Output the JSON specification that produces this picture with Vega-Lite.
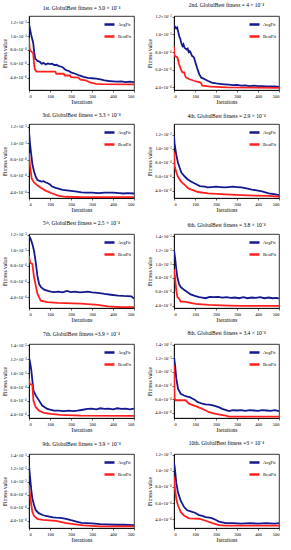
{
"$schema": "https://vega.github.io/schema/vega-lite/v6.json",
"padding": {"left": 2, "top": 2, "right": 2, "bottom": 2},
"background": "white",
"spacing": {"row": 6, "column": 12},
"config": {
  "font": "Liberation Serif",
  "view": {"stroke": "black", "strokeWidth": 0.8},
  "title": {"fontSize": 5.5, "fontWeight": "normal", "offset": 5, "color": "black", "font": "Liberation Serif"},
  "axis": {"labelFontSize": 4.5, "titleFontSize": 5.5, "titleFontWeight": "normal", "grid": false, "domainColor": "black", "tickColor": "black", "tickSize": 2, "labelPadding": 1, "titlePadding": 2, "labelColor": "black", "titleColor": "black", "labelFont": "Liberation Serif", "titleFont": "Liberation Serif", "domainWidth": 0.8, "tickWidth": 0.6},
  "legend": {"orient": "top-right", "offset": 2, "padding": 0, "title": null, "symbolType": "stroke", "symbolStrokeWidth": 2.5, "symbolSize": 100, "labelFontSize": 4.5, "labelFont": "Liberation Serif", "rowPadding": 0, "labelOffset": 2, "labelColor": "black"}
},
"data": {"values": [
{"p":1,"s":"AvgFit","x":0,"y":11.8},{"p":1,"s":"AvgFit","x":5,"y":11.0},{"p":1,"s":"AvgFit","x":10,"y":10.2},{"p":1,"s":"AvgFit","x":15,"y":9.6},{"p":1,"s":"AvgFit","x":20,"y":9.0},{"p":1,"s":"AvgFit","x":25,"y":7.6},{"p":1,"s":"AvgFit","x":30,"y":6.7},{"p":1,"s":"AvgFit","x":35,"y":6.6},{"p":1,"s":"AvgFit","x":40,"y":6.4},{"p":1,"s":"AvgFit","x":50,"y":6.3},{"p":1,"s":"AvgFit","x":60,"y":6.0},{"p":1,"s":"AvgFit","x":70,"y":6.1},{"p":1,"s":"AvgFit","x":80,"y":5.9},{"p":1,"s":"AvgFit","x":90,"y":6.05},{"p":1,"s":"AvgFit","x":100,"y":5.95},{"p":1,"s":"AvgFit","x":110,"y":6.0},{"p":1,"s":"AvgFit","x":120,"y":5.8},{"p":1,"s":"AvgFit","x":130,"y":5.85},{"p":1,"s":"AvgFit","x":140,"y":5.7},{"p":1,"s":"AvgFit","x":150,"y":5.6},{"p":1,"s":"AvgFit","x":160,"y":5.5},{"p":1,"s":"AvgFit","x":170,"y":5.2},{"p":1,"s":"AvgFit","x":180,"y":5.05},{"p":1,"s":"AvgFit","x":190,"y":4.95},{"p":1,"s":"AvgFit","x":200,"y":4.75},{"p":1,"s":"AvgFit","x":220,"y":4.55},{"p":1,"s":"AvgFit","x":240,"y":4.3},{"p":1,"s":"AvgFit","x":260,"y":4.1},{"p":1,"s":"AvgFit","x":280,"y":3.95},{"p":1,"s":"AvgFit","x":300,"y":3.9},{"p":1,"s":"AvgFit","x":320,"y":3.85},{"p":1,"s":"AvgFit","x":340,"y":3.75},{"p":1,"s":"AvgFit","x":360,"y":3.6},{"p":1,"s":"AvgFit","x":380,"y":3.5},{"p":1,"s":"AvgFit","x":400,"y":3.45},{"p":1,"s":"AvgFit","x":420,"y":3.4},{"p":1,"s":"AvgFit","x":440,"y":3.45},{"p":1,"s":"AvgFit","x":460,"y":3.35},{"p":1,"s":"AvgFit","x":480,"y":3.4},{"p":1,"s":"AvgFit","x":500,"y":3.35},
{"p":1,"s":"BestFit","x":0,"y":9.7},{"p":1,"s":"BestFit","x":3,"y":8.1},{"p":1,"s":"BestFit","x":10,"y":7.8},{"p":1,"s":"BestFit","x":20,"y":7.5},{"p":1,"s":"BestFit","x":24,"y":6.0},{"p":1,"s":"BestFit","x":28,"y":5.2},{"p":1,"s":"BestFit","x":35,"y":4.85},{"p":1,"s":"BestFit","x":125,"y":4.85},{"p":1,"s":"BestFit","x":130,"y":4.55},{"p":1,"s":"BestFit","x":165,"y":4.55},{"p":1,"s":"BestFit","x":170,"y":4.3},{"p":1,"s":"BestFit","x":195,"y":4.3},{"p":1,"s":"BestFit","x":200,"y":4.05},{"p":1,"s":"BestFit","x":235,"y":4.0},{"p":1,"s":"BestFit","x":245,"y":3.7},{"p":1,"s":"BestFit","x":270,"y":3.6},{"p":1,"s":"BestFit","x":290,"y":3.3},{"p":1,"s":"BestFit","x":320,"y":3.1},{"p":1,"s":"BestFit","x":350,"y":3.05},{"p":1,"s":"BestFit","x":500,"y":3.0},
{"p":2,"s":"AvgFit","x":0,"y":11.0},{"p":2,"s":"AvgFit","x":5,"y":10.9},{"p":2,"s":"AvgFit","x":10,"y":10.7},{"p":2,"s":"AvgFit","x":15,"y":10.8},{"p":2,"s":"AvgFit","x":20,"y":10.3},{"p":2,"s":"AvgFit","x":25,"y":9.8},{"p":2,"s":"AvgFit","x":30,"y":9.5},{"p":2,"s":"AvgFit","x":35,"y":9.0},{"p":2,"s":"AvgFit","x":40,"y":8.7},{"p":2,"s":"AvgFit","x":45,"y":8.9},{"p":2,"s":"AvgFit","x":50,"y":8.5},{"p":2,"s":"AvgFit","x":55,"y":8.4},{"p":2,"s":"AvgFit","x":60,"y":8.3},{"p":2,"s":"AvgFit","x":65,"y":8.4},{"p":2,"s":"AvgFit","x":70,"y":8.0},{"p":2,"s":"AvgFit","x":75,"y":8.1},{"p":2,"s":"AvgFit","x":80,"y":7.9},{"p":2,"s":"AvgFit","x":85,"y":7.6},{"p":2,"s":"AvgFit","x":90,"y":7.5},{"p":2,"s":"AvgFit","x":95,"y":7.4},{"p":2,"s":"AvgFit","x":100,"y":7.0},{"p":2,"s":"AvgFit","x":110,"y":6.2},{"p":2,"s":"AvgFit","x":120,"y":5.5},{"p":2,"s":"AvgFit","x":130,"y":5.1},{"p":2,"s":"AvgFit","x":140,"y":5.0},{"p":2,"s":"AvgFit","x":160,"y":4.75},{"p":2,"s":"AvgFit","x":180,"y":4.55},{"p":2,"s":"AvgFit","x":200,"y":4.45},{"p":2,"s":"AvgFit","x":220,"y":4.4},{"p":2,"s":"AvgFit","x":240,"y":4.35},{"p":2,"s":"AvgFit","x":260,"y":4.3},{"p":2,"s":"AvgFit","x":280,"y":4.25},{"p":2,"s":"AvgFit","x":300,"y":4.28},{"p":2,"s":"AvgFit","x":320,"y":4.2},{"p":2,"s":"AvgFit","x":340,"y":4.22},{"p":2,"s":"AvgFit","x":360,"y":4.15},{"p":2,"s":"AvgFit","x":380,"y":4.2},{"p":2,"s":"AvgFit","x":400,"y":4.15},{"p":2,"s":"AvgFit","x":420,"y":4.15},{"p":2,"s":"AvgFit","x":440,"y":4.1},{"p":2,"s":"AvgFit","x":460,"y":4.12},{"p":2,"s":"AvgFit","x":480,"y":4.1},{"p":2,"s":"AvgFit","x":500,"y":4.05},
{"p":2,"s":"BestFit","x":0,"y":8.6},{"p":2,"s":"BestFit","x":2,"y":7.6},{"p":2,"s":"BestFit","x":16,"y":7.4},{"p":2,"s":"BestFit","x":24,"y":6.65},{"p":2,"s":"BestFit","x":32,"y":6.1},{"p":2,"s":"BestFit","x":40,"y":5.7},{"p":2,"s":"BestFit","x":48,"y":5.7},{"p":2,"s":"BestFit","x":56,"y":5.15},{"p":2,"s":"BestFit","x":71,"y":4.95},{"p":2,"s":"BestFit","x":95,"y":4.75},{"p":2,"s":"BestFit","x":127,"y":4.55},{"p":2,"s":"BestFit","x":135,"y":4.2},{"p":2,"s":"BestFit","x":175,"y":4.08},{"p":2,"s":"BestFit","x":254,"y":4.0},{"p":2,"s":"BestFit","x":500,"y":3.95},
{"p":3,"s":"AvgFit","x":0,"y":11.45},{"p":3,"s":"AvgFit","x":5,"y":9.9},{"p":3,"s":"AvgFit","x":11,"y":8.55},{"p":3,"s":"AvgFit","x":16,"y":7.45},{"p":3,"s":"AvgFit","x":24,"y":6.55},{"p":3,"s":"AvgFit","x":32,"y":5.9},{"p":3,"s":"AvgFit","x":40,"y":5.5},{"p":3,"s":"AvgFit","x":50,"y":5.4},{"p":3,"s":"AvgFit","x":60,"y":5.3},{"p":3,"s":"AvgFit","x":70,"y":5.35},{"p":3,"s":"AvgFit","x":80,"y":5.2},{"p":3,"s":"AvgFit","x":90,"y":5.1},{"p":3,"s":"AvgFit","x":100,"y":4.95},{"p":3,"s":"AvgFit","x":110,"y":4.7},{"p":3,"s":"AvgFit","x":127,"y":4.55},{"p":3,"s":"AvgFit","x":140,"y":4.45},{"p":3,"s":"AvgFit","x":160,"y":4.3},{"p":3,"s":"AvgFit","x":190,"y":4.2},{"p":3,"s":"AvgFit","x":220,"y":4.1},{"p":3,"s":"AvgFit","x":250,"y":4.0},{"p":3,"s":"AvgFit","x":270,"y":3.95},{"p":3,"s":"AvgFit","x":300,"y":3.95},{"p":3,"s":"AvgFit","x":330,"y":3.9},{"p":3,"s":"AvgFit","x":360,"y":3.95},{"p":3,"s":"AvgFit","x":400,"y":3.95},{"p":3,"s":"AvgFit","x":430,"y":3.9},{"p":3,"s":"AvgFit","x":450,"y":3.85},{"p":3,"s":"AvgFit","x":470,"y":3.9},{"p":3,"s":"AvgFit","x":500,"y":3.85},
{"p":3,"s":"BestFit","x":0,"y":8.8},{"p":3,"s":"BestFit","x":5,"y":7.2},{"p":3,"s":"BestFit","x":13,"y":5.65},{"p":3,"s":"BestFit","x":24,"y":5.2},{"p":3,"s":"BestFit","x":40,"y":4.85},{"p":3,"s":"BestFit","x":56,"y":4.55},{"p":3,"s":"BestFit","x":79,"y":4.2},{"p":3,"s":"BestFit","x":111,"y":3.85},{"p":3,"s":"BestFit","x":143,"y":3.55},{"p":3,"s":"BestFit","x":175,"y":3.45},{"p":3,"s":"BestFit","x":254,"y":3.4},{"p":3,"s":"BestFit","x":500,"y":3.4},
{"p":4,"s":"AvgFit","x":0,"y":11.8},{"p":4,"s":"AvgFit","x":3,"y":10.65},{"p":4,"s":"AvgFit","x":11,"y":9.1},{"p":4,"s":"AvgFit","x":19,"y":8.0},{"p":4,"s":"AvgFit","x":27,"y":7.3},{"p":4,"s":"AvgFit","x":35,"y":6.6},{"p":4,"s":"AvgFit","x":51,"y":6.05},{"p":4,"s":"AvgFit","x":67,"y":5.6},{"p":4,"s":"AvgFit","x":83,"y":5.3},{"p":4,"s":"AvgFit","x":99,"y":5.05},{"p":4,"s":"AvgFit","x":123,"y":4.7},{"p":4,"s":"AvgFit","x":147,"y":4.6},{"p":4,"s":"AvgFit","x":160,"y":4.5},{"p":4,"s":"AvgFit","x":180,"y":4.55},{"p":4,"s":"AvgFit","x":200,"y":4.6},{"p":4,"s":"AvgFit","x":220,"y":4.55},{"p":4,"s":"AvgFit","x":240,"y":4.5},{"p":4,"s":"AvgFit","x":260,"y":4.55},{"p":4,"s":"AvgFit","x":280,"y":4.6},{"p":4,"s":"AvgFit","x":300,"y":4.55},{"p":4,"s":"AvgFit","x":320,"y":4.5},{"p":4,"s":"AvgFit","x":340,"y":4.4},{"p":4,"s":"AvgFit","x":371,"y":4.2},{"p":4,"s":"AvgFit","x":400,"y":4.05},{"p":4,"s":"AvgFit","x":419,"y":3.95},{"p":4,"s":"AvgFit","x":451,"y":3.65},{"p":4,"s":"AvgFit","x":483,"y":3.5},{"p":4,"s":"AvgFit","x":500,"y":3.4},
{"p":4,"s":"BestFit","x":0,"y":9.55},{"p":4,"s":"BestFit","x":3,"y":7.55},{"p":4,"s":"BestFit","x":11,"y":6.65},{"p":4,"s":"BestFit","x":19,"y":6.0},{"p":4,"s":"BestFit","x":35,"y":5.3},{"p":4,"s":"BestFit","x":51,"y":4.85},{"p":4,"s":"BestFit","x":67,"y":4.4},{"p":4,"s":"BestFit","x":83,"y":4.2},{"p":4,"s":"BestFit","x":115,"y":3.85},{"p":4,"s":"BestFit","x":163,"y":3.65},{"p":4,"s":"BestFit","x":243,"y":3.5},{"p":4,"s":"BestFit","x":323,"y":3.4},{"p":4,"s":"BestFit","x":387,"y":3.35},{"p":4,"s":"BestFit","x":451,"y":3.3},{"p":4,"s":"BestFit","x":500,"y":3.2},
{"p":5,"s":"AvgFit","x":0,"y":11.9},{"p":5,"s":"AvgFit","x":8,"y":11.45},{"p":5,"s":"AvgFit","x":16,"y":10.8},{"p":5,"s":"AvgFit","x":24,"y":9.95},{"p":5,"s":"AvgFit","x":32,"y":8.45},{"p":5,"s":"AvgFit","x":40,"y":6.75},{"p":5,"s":"AvgFit","x":48,"y":5.7},{"p":5,"s":"AvgFit","x":56,"y":5.3},{"p":5,"s":"AvgFit","x":72,"y":4.95},{"p":5,"s":"AvgFit","x":90,"y":4.8},{"p":5,"s":"AvgFit","x":104,"y":4.7},{"p":5,"s":"AvgFit","x":120,"y":4.65},{"p":5,"s":"AvgFit","x":140,"y":4.7},{"p":5,"s":"AvgFit","x":160,"y":4.6},{"p":5,"s":"AvgFit","x":180,"y":4.8},{"p":5,"s":"AvgFit","x":200,"y":4.65},{"p":5,"s":"AvgFit","x":220,"y":4.7},{"p":5,"s":"AvgFit","x":240,"y":4.6},{"p":5,"s":"AvgFit","x":260,"y":4.65},{"p":5,"s":"AvgFit","x":280,"y":4.7},{"p":5,"s":"AvgFit","x":300,"y":4.6},{"p":5,"s":"AvgFit","x":328,"y":4.55},{"p":5,"s":"AvgFit","x":360,"y":4.4},{"p":5,"s":"AvgFit","x":390,"y":4.3},{"p":5,"s":"AvgFit","x":424,"y":4.2},{"p":5,"s":"AvgFit","x":450,"y":4.15},{"p":5,"s":"AvgFit","x":488,"y":4.1},{"p":5,"s":"AvgFit","x":500,"y":3.8},
{"p":5,"s":"BestFit","x":0,"y":9.3},{"p":5,"s":"BestFit","x":5,"y":8.45},{"p":5,"s":"BestFit","x":16,"y":8.25},{"p":5,"s":"BestFit","x":24,"y":6.55},{"p":5,"s":"BestFit","x":32,"y":5.5},{"p":5,"s":"BestFit","x":40,"y":4.45},{"p":5,"s":"BestFit","x":48,"y":4.0},{"p":5,"s":"BestFit","x":56,"y":3.55},{"p":5,"s":"BestFit","x":88,"y":3.35},{"p":5,"s":"BestFit","x":136,"y":3.25},{"p":5,"s":"BestFit","x":248,"y":3.15},{"p":5,"s":"BestFit","x":328,"y":3.0},{"p":5,"s":"BestFit","x":376,"y":2.8},{"p":5,"s":"BestFit","x":440,"y":2.7},{"p":5,"s":"BestFit","x":500,"y":2.7},
{"p":6,"s":"AvgFit","x":0,"y":12.05},{"p":6,"s":"AvgFit","x":5,"y":10.9},{"p":6,"s":"AvgFit","x":11,"y":9.25},{"p":6,"s":"AvgFit","x":16,"y":8.1},{"p":6,"s":"AvgFit","x":24,"y":7.15},{"p":6,"s":"AvgFit","x":32,"y":6.7},{"p":6,"s":"AvgFit","x":48,"y":6.3},{"p":6,"s":"AvgFit","x":63,"y":6.0},{"p":6,"s":"AvgFit","x":79,"y":5.65},{"p":6,"s":"AvgFit","x":103,"y":5.4},{"p":6,"s":"AvgFit","x":120,"y":5.25},{"p":6,"s":"AvgFit","x":135,"y":5.2},{"p":6,"s":"AvgFit","x":150,"y":5.1},{"p":6,"s":"AvgFit","x":170,"y":5.3},{"p":6,"s":"AvgFit","x":190,"y":5.25},{"p":6,"s":"AvgFit","x":210,"y":5.3},{"p":6,"s":"AvgFit","x":230,"y":5.2},{"p":6,"s":"AvgFit","x":250,"y":5.25},{"p":6,"s":"AvgFit","x":270,"y":5.15},{"p":6,"s":"AvgFit","x":290,"y":5.2},{"p":6,"s":"AvgFit","x":310,"y":5.1},{"p":6,"s":"AvgFit","x":330,"y":5.25},{"p":6,"s":"AvgFit","x":350,"y":5.1},{"p":6,"s":"AvgFit","x":370,"y":5.2},{"p":6,"s":"AvgFit","x":390,"y":5.15},{"p":6,"s":"AvgFit","x":410,"y":5.25},{"p":6,"s":"AvgFit","x":430,"y":5.1},{"p":6,"s":"AvgFit","x":450,"y":5.2},{"p":6,"s":"AvgFit","x":470,"y":5.1},{"p":6,"s":"AvgFit","x":490,"y":5.15},{"p":6,"s":"AvgFit","x":500,"y":5.05},
{"p":6,"s":"BestFit","x":0,"y":9.25},{"p":6,"s":"BestFit","x":5,"y":8.1},{"p":6,"s":"BestFit","x":11,"y":6.2},{"p":6,"s":"BestFit","x":16,"y":5.3},{"p":6,"s":"BestFit","x":24,"y":5.05},{"p":6,"s":"BestFit","x":32,"y":4.6},{"p":6,"s":"BestFit","x":48,"y":4.6},{"p":6,"s":"BestFit","x":79,"y":4.45},{"p":6,"s":"BestFit","x":103,"y":4.3},{"p":6,"s":"BestFit","x":167,"y":4.15},{"p":6,"s":"BestFit","x":262,"y":4.05},{"p":6,"s":"BestFit","x":325,"y":4.0},{"p":6,"s":"BestFit","x":500,"y":4.0},
{"p":7,"s":"AvgFit","x":0,"y":12.3},{"p":7,"s":"AvgFit","x":5,"y":11.6},{"p":7,"s":"AvgFit","x":11,"y":10.4},{"p":7,"s":"AvgFit","x":16,"y":8.95},{"p":7,"s":"AvgFit","x":21,"y":7.5},{"p":7,"s":"AvgFit","x":32,"y":6.8},{"p":7,"s":"AvgFit","x":48,"y":6.05},{"p":7,"s":"AvgFit","x":63,"y":5.35},{"p":7,"s":"AvgFit","x":87,"y":4.85},{"p":7,"s":"AvgFit","x":119,"y":4.6},{"p":7,"s":"AvgFit","x":140,"y":4.6},{"p":7,"s":"AvgFit","x":167,"y":4.55},{"p":7,"s":"AvgFit","x":190,"y":4.6},{"p":7,"s":"AvgFit","x":210,"y":4.55},{"p":7,"s":"AvgFit","x":230,"y":4.6},{"p":7,"s":"AvgFit","x":250,"y":4.7},{"p":7,"s":"AvgFit","x":278,"y":4.85},{"p":7,"s":"AvgFit","x":300,"y":4.9},{"p":7,"s":"AvgFit","x":320,"y":4.8},{"p":7,"s":"AvgFit","x":340,"y":4.95},{"p":7,"s":"AvgFit","x":360,"y":4.85},{"p":7,"s":"AvgFit","x":380,"y":4.9},{"p":7,"s":"AvgFit","x":400,"y":4.8},{"p":7,"s":"AvgFit","x":420,"y":4.95},{"p":7,"s":"AvgFit","x":440,"y":4.85},{"p":7,"s":"AvgFit","x":460,"y":4.9},{"p":7,"s":"AvgFit","x":480,"y":4.8},{"p":7,"s":"AvgFit","x":500,"y":4.9},
{"p":7,"s":"BestFit","x":0,"y":9.2},{"p":7,"s":"BestFit","x":3,"y":8.45},{"p":7,"s":"BestFit","x":16,"y":8.3},{"p":7,"s":"BestFit","x":21,"y":6.05},{"p":7,"s":"BestFit","x":32,"y":5.1},{"p":7,"s":"BestFit","x":48,"y":4.6},{"p":7,"s":"BestFit","x":71,"y":4.3},{"p":7,"s":"BestFit","x":103,"y":4.15},{"p":7,"s":"BestFit","x":151,"y":4.0},{"p":7,"s":"BestFit","x":246,"y":3.9},{"p":7,"s":"BestFit","x":500,"y":3.85},
{"p":8,"s":"AvgFit","x":0,"y":12.25},{"p":8,"s":"AvgFit","x":5,"y":11.0},{"p":8,"s":"AvgFit","x":11,"y":9.05},{"p":8,"s":"AvgFit","x":19,"y":7.55},{"p":8,"s":"AvgFit","x":32,"y":6.8},{"p":8,"s":"AvgFit","x":48,"y":6.55},{"p":8,"s":"AvgFit","x":63,"y":6.4},{"p":8,"s":"AvgFit","x":75,"y":6.3},{"p":8,"s":"AvgFit","x":87,"y":6.1},{"p":8,"s":"AvgFit","x":100,"y":5.9},{"p":8,"s":"AvgFit","x":111,"y":5.6},{"p":8,"s":"AvgFit","x":125,"y":5.45},{"p":8,"s":"AvgFit","x":135,"y":5.35},{"p":8,"s":"AvgFit","x":150,"y":5.25},{"p":8,"s":"AvgFit","x":167,"y":5.2},{"p":8,"s":"AvgFit","x":185,"y":5.1},{"p":8,"s":"AvgFit","x":198,"y":5.0},{"p":8,"s":"AvgFit","x":215,"y":4.8},{"p":8,"s":"AvgFit","x":230,"y":4.6},{"p":8,"s":"AvgFit","x":262,"y":4.25},{"p":8,"s":"AvgFit","x":280,"y":4.4},{"p":8,"s":"AvgFit","x":300,"y":4.35},{"p":8,"s":"AvgFit","x":320,"y":4.4},{"p":8,"s":"AvgFit","x":340,"y":4.3},{"p":8,"s":"AvgFit","x":360,"y":4.4},{"p":8,"s":"AvgFit","x":380,"y":4.35},{"p":8,"s":"AvgFit","x":400,"y":4.3},{"p":8,"s":"AvgFit","x":420,"y":4.4},{"p":8,"s":"AvgFit","x":440,"y":4.35},{"p":8,"s":"AvgFit","x":460,"y":4.3},{"p":8,"s":"AvgFit","x":480,"y":4.4},{"p":8,"s":"AvgFit","x":500,"y":4.25},
{"p":8,"s":"BestFit","x":0,"y":11.0},{"p":8,"s":"BestFit","x":3,"y":6.1},{"p":8,"s":"BestFit","x":8,"y":5.85},{"p":8,"s":"BestFit","x":56,"y":5.85},{"p":8,"s":"BestFit","x":71,"y":5.35},{"p":8,"s":"BestFit","x":103,"y":5.0},{"p":8,"s":"BestFit","x":135,"y":4.6},{"p":8,"s":"BestFit","x":167,"y":4.1},{"p":8,"s":"BestFit","x":198,"y":3.85},{"p":8,"s":"BestFit","x":246,"y":3.6},{"p":8,"s":"BestFit","x":262,"y":3.45},{"p":8,"s":"BestFit","x":500,"y":3.45},
{"p":9,"s":"AvgFit","x":0,"y":12.5},{"p":9,"s":"AvgFit","x":5,"y":10.7},{"p":9,"s":"AvgFit","x":11,"y":8.65},{"p":9,"s":"AvgFit","x":16,"y":7.4},{"p":9,"s":"AvgFit","x":24,"y":6.4},{"p":9,"s":"AvgFit","x":32,"y":5.6},{"p":9,"s":"AvgFit","x":48,"y":5.1},{"p":9,"s":"AvgFit","x":65,"y":4.85},{"p":9,"s":"AvgFit","x":80,"y":4.7},{"p":9,"s":"AvgFit","x":97,"y":4.6},{"p":9,"s":"AvgFit","x":115,"y":4.5},{"p":9,"s":"AvgFit","x":129,"y":4.45},{"p":9,"s":"AvgFit","x":150,"y":4.4},{"p":9,"s":"AvgFit","x":177,"y":4.25},{"p":9,"s":"AvgFit","x":200,"y":4.05},{"p":9,"s":"AvgFit","x":226,"y":3.85},{"p":9,"s":"AvgFit","x":250,"y":3.65},{"p":9,"s":"AvgFit","x":274,"y":3.6},{"p":9,"s":"AvgFit","x":300,"y":3.55},{"p":9,"s":"AvgFit","x":339,"y":3.45},{"p":9,"s":"AvgFit","x":370,"y":3.4},{"p":9,"s":"AvgFit","x":419,"y":3.35},{"p":9,"s":"AvgFit","x":450,"y":3.35},{"p":9,"s":"AvgFit","x":500,"y":3.3},
{"p":9,"s":"BestFit","x":0,"y":9.45},{"p":9,"s":"BestFit","x":5,"y":7.9},{"p":9,"s":"BestFit","x":11,"y":6.4},{"p":9,"s":"BestFit","x":16,"y":5.35},{"p":9,"s":"BestFit","x":24,"y":4.7},{"p":9,"s":"BestFit","x":40,"y":4.25},{"p":9,"s":"BestFit","x":65,"y":4.1},{"p":9,"s":"BestFit","x":129,"y":3.95},{"p":9,"s":"BestFit","x":177,"y":3.6},{"p":9,"s":"BestFit","x":258,"y":3.25},{"p":9,"s":"BestFit","x":339,"y":3.1},{"p":9,"s":"BestFit","x":500,"y":3.1},
{"p":10,"s":"AvgFit","x":0,"y":11.1},{"p":10,"s":"AvgFit","x":5,"y":10.1},{"p":10,"s":"AvgFit","x":11,"y":8.5},{"p":10,"s":"AvgFit","x":19,"y":7.3},{"p":10,"s":"AvgFit","x":32,"y":6.3},{"p":10,"s":"AvgFit","x":48,"y":5.5},{"p":10,"s":"AvgFit","x":63,"y":5.1},{"p":10,"s":"AvgFit","x":87,"y":4.9},{"p":10,"s":"AvgFit","x":100,"y":4.8},{"p":10,"s":"AvgFit","x":119,"y":4.5},{"p":10,"s":"AvgFit","x":135,"y":4.4},{"p":10,"s":"AvgFit","x":151,"y":4.25},{"p":10,"s":"AvgFit","x":170,"y":4.2},{"p":10,"s":"AvgFit","x":183,"y":4.1},{"p":10,"s":"AvgFit","x":200,"y":3.9},{"p":10,"s":"AvgFit","x":214,"y":3.7},{"p":10,"s":"AvgFit","x":246,"y":3.5},{"p":10,"s":"AvgFit","x":280,"y":3.5},{"p":10,"s":"AvgFit","x":320,"y":3.45},{"p":10,"s":"AvgFit","x":360,"y":3.5},{"p":10,"s":"AvgFit","x":400,"y":3.45},{"p":10,"s":"AvgFit","x":440,"y":3.5},{"p":10,"s":"AvgFit","x":480,"y":3.45},{"p":10,"s":"AvgFit","x":500,"y":3.5},
{"p":10,"s":"BestFit","x":0,"y":9.3},{"p":10,"s":"BestFit","x":5,"y":7.7},{"p":10,"s":"BestFit","x":11,"y":6.5},{"p":10,"s":"BestFit","x":19,"y":5.7},{"p":10,"s":"BestFit","x":32,"y":4.9},{"p":10,"s":"BestFit","x":48,"y":4.45},{"p":10,"s":"BestFit","x":71,"y":4.1},{"p":10,"s":"BestFit","x":119,"y":4.05},{"p":10,"s":"BestFit","x":151,"y":3.8},{"p":10,"s":"BestFit","x":183,"y":3.5},{"p":10,"s":"BestFit","x":214,"y":3.25},{"p":10,"s":"BestFit","x":246,"y":3.2},{"p":10,"s":"BestFit","x":500,"y":3.2}
]},
"columns": 2,
"resolve": {"legend": {"color": "independent"}},
"concat": [
{"title": "1st. GlobalBest fitness = 3.0 × 10⁻⁴", "width": 105, "height": 74, "transform": [{"filter": "datum.p == 1"}], "mark": {"type": "line", "strokeWidth": 1.8, "clip": true},
 "encoding": {"x": {"field": "x", "type": "quantitative", "scale": {"domain": [0, 500]}, "axis": {"values": [0,100,200,300,400,500], "title": "Iterations"}},
  "y": {"field": "y", "type": "quantitative", "scale": {"domain": [2.2, 12.9], "nice": false, "zero": false}, "axis": {"values": [4,6,8,10,12], "title": "Fitness value", "labelExpr": "datum.value >= 10 ? format(datum.value/10,'.1f') + '×10⁻³' : format(datum.value,'.1f') + '×10⁻⁴'"}},
  "color": {"field": "s", "type": "nominal", "scale": {"domain": ["AvgFit","BestFit"], "range": ["#14198f","#ff1f1f"]}}}},
{"title": "2nd. GlobalBest fitness = 4 × 10⁻⁴", "width": 105, "height": 74, "transform": [{"filter": "datum.p == 2"}], "mark": {"type": "line", "strokeWidth": 1.8, "clip": true},
 "encoding": {"x": {"field": "x", "type": "quantitative", "scale": {"domain": [0, 500]}, "axis": {"values": [0,100,200,300,400,500], "title": "Iterations"}},
  "y": {"field": "y", "type": "quantitative", "scale": {"domain": [3.7, 12.1], "nice": false, "zero": false}, "axis": {"values": [4,6,8,10,12], "title": "Fitness value", "labelExpr": "datum.value >= 10 ? format(datum.value/10,'.1f') + '×10⁻³' : format(datum.value,'.1f') + '×10⁻⁴'"}},
  "color": {"field": "s", "type": "nominal", "scale": {"domain": ["AvgFit","BestFit"], "range": ["#14198f","#ff1f1f"]}}}},
{"title": "3rd.  GlobalBest fitness = 3.3 × 10⁻⁴", "width": 105, "height": 74, "transform": [{"filter": "datum.p == 3"}], "mark": {"type": "line", "strokeWidth": 1.8, "clip": true},
 "encoding": {"x": {"field": "x", "type": "quantitative", "scale": {"domain": [0, 500]}, "axis": {"values": [0,100,200,300,400,500], "title": "Iterations"}},
  "y": {"field": "y", "type": "quantitative", "scale": {"domain": [3.3, 12.35], "nice": false, "zero": false}, "axis": {"values": [4,6,8,10,12], "title": "Fitness value", "labelExpr": "datum.value >= 10 ? format(datum.value/10,'.1f') + '×10⁻³' : format(datum.value,'.1f') + '×10⁻⁴'"}},
  "color": {"field": "s", "type": "nominal", "scale": {"domain": ["AvgFit","BestFit"], "range": ["#14198f","#ff1f1f"]}}}},
{"title": "4th. GlobalBest fitness = 2.9 × 10⁻⁴", "width": 105, "height": 74, "transform": [{"filter": "datum.p == 4"}], "mark": {"type": "line", "strokeWidth": 1.8, "clip": true},
 "encoding": {"x": {"field": "x", "type": "quantitative", "scale": {"domain": [0, 500]}, "axis": {"values": [0,100,200,300,400,500], "title": "Iterations"}},
  "y": {"field": "y", "type": "quantitative", "scale": {"domain": [3.0, 13.5], "nice": false, "zero": false}, "axis": {"values": [4,6,8,10,12], "title": "Fitness value", "labelExpr": "datum.value >= 10 ? format(datum.value/10,'.1f') + '×10⁻³' : format(datum.value,'.1f') + '×10⁻⁴'"}},
  "color": {"field": "s", "type": "nominal", "scale": {"domain": ["AvgFit","BestFit"], "range": ["#14198f","#ff1f1f"]}}}},
{"title": "5ᵗʰ. GlobalBest fitness =  2.5 × 10⁻⁴", "width": 105, "height": 74, "transform": [{"filter": "datum.p == 5"}], "mark": {"type": "line", "strokeWidth": 1.8, "clip": true},
 "encoding": {"x": {"field": "x", "type": "quantitative", "scale": {"domain": [0, 500]}, "axis": {"values": [0,100,200,300,400,500], "title": "Iterations"}},
  "y": {"field": "y", "type": "quantitative", "scale": {"domain": [2.6, 12.1], "nice": false, "zero": false}, "axis": {"values": [4,6,8,10,12], "title": "Fitness value", "labelExpr": "datum.value >= 10 ? format(datum.value/10,'.1f') + '×10⁻³' : format(datum.value,'.1f') + '×10⁻⁴'"}},
  "color": {"field": "s", "type": "nominal", "scale": {"domain": ["AvgFit","BestFit"], "range": ["#14198f","#ff1f1f"]}}}},
{"title": "6th. GlobalBest fitness =  3.8 × 10⁻⁴", "width": 105, "height": 74, "transform": [{"filter": "datum.p == 6"}], "mark": {"type": "line", "strokeWidth": 1.8, "clip": true},
 "encoding": {"x": {"field": "x", "type": "quantitative", "scale": {"domain": [0, 500]}, "axis": {"values": [0,100,200,300,400,500], "title": "Iterations"}},
  "y": {"field": "y", "type": "quantitative", "scale": {"domain": [3.7, 14.3], "nice": false, "zero": false}, "axis": {"values": [4,6,8,10,12,14], "title": "Fitness value", "labelExpr": "datum.value >= 10 ? format(datum.value/10,'.1f') + '×10⁻³' : format(datum.value,'.1f') + '×10⁻⁴'"}},
  "color": {"field": "s", "type": "nominal", "scale": {"domain": ["AvgFit","BestFit"], "range": ["#14198f","#ff1f1f"]}}}},
{"title": "7th. GlobalBest fitness =3.9 × 10⁻⁴", "width": 105, "height": 74, "transform": [{"filter": "datum.p == 7"}], "mark": {"type": "line", "strokeWidth": 1.8, "clip": true},
 "encoding": {"x": {"field": "x", "type": "quantitative", "scale": {"domain": [0, 500]}, "axis": {"values": [0,100,200,300,400,500], "title": "Iterations"}},
  "y": {"field": "y", "type": "quantitative", "scale": {"domain": [3.55, 14.2], "nice": false, "zero": false}, "axis": {"values": [4,6,8,10,12,14], "title": "Fitness value", "labelExpr": "datum.value >= 10 ? format(datum.value/10,'.1f') + '×10⁻³' : format(datum.value,'.1f') + '×10⁻⁴'"}},
  "color": {"field": "s", "type": "nominal", "scale": {"domain": ["AvgFit","BestFit"], "range": ["#14198f","#ff1f1f"]}}}},
{"title": "8th. GlobalBest fitness = 3.4 × 10⁻⁴", "width": 105, "height": 74, "transform": [{"filter": "datum.p == 8"}], "mark": {"type": "line", "strokeWidth": 1.8, "clip": true},
 "encoding": {"x": {"field": "x", "type": "quantitative", "scale": {"domain": [0, 500]}, "axis": {"values": [0,100,200,300,400,500], "title": "Iterations"}},
  "y": {"field": "y", "type": "quantitative", "scale": {"domain": [3.25, 14.1], "nice": false, "zero": false}, "axis": {"values": [4,6,8,10,12,14], "title": "Fitness value", "labelExpr": "datum.value >= 10 ? format(datum.value/10,'.1f') + '×10⁻³' : format(datum.value,'.1f') + '×10⁻⁴'"}},
  "color": {"field": "s", "type": "nominal", "scale": {"domain": ["AvgFit","BestFit"], "range": ["#14198f","#ff1f1f"]}}}},
{"title": "9th. GlobalBest fitness = 3.9 × 10⁻⁴", "width": 105, "height": 74, "transform": [{"filter": "datum.p == 9"}], "mark": {"type": "line", "strokeWidth": 1.8, "clip": true},
 "encoding": {"x": {"field": "x", "type": "quantitative", "scale": {"domain": [0, 500]}, "axis": {"values": [0,100,200,300,400,500], "title": "Iterations"}},
  "y": {"field": "y", "type": "quantitative", "scale": {"domain": [2.85, 14.25], "nice": false, "zero": false}, "axis": {"values": [4,6,8,10,12,14], "title": "Fitness value", "labelExpr": "datum.value >= 10 ? format(datum.value/10,'.1f') + '×10⁻³' : format(datum.value,'.1f') + '×10⁻⁴'"}},
  "color": {"field": "s", "type": "nominal", "scale": {"domain": ["AvgFit","BestFit"], "range": ["#14198f","#ff1f1f"]}}}},
{"title": "10th. GlobalBest fitness =3 × 10⁻⁴", "width": 105, "height": 74, "transform": [{"filter": "datum.p == 10"}], "mark": {"type": "line", "strokeWidth": 1.8, "clip": true},
 "encoding": {"x": {"field": "x", "type": "quantitative", "scale": {"domain": [0, 500]}, "axis": {"values": [0,100,200,300,400,500], "title": "Iterations"}},
  "y": {"field": "y", "type": "quantitative", "scale": {"domain": [2.9, 12.1], "nice": false, "zero": false}, "axis": {"values": [4,6,8,10,12], "title": "Fitness value", "labelExpr": "datum.value >= 10 ? format(datum.value/10,'.1f') + '×10⁻³' : format(datum.value,'.1f') + '×10⁻⁴'"}},
  "color": {"field": "s", "type": "nominal", "scale": {"domain": ["AvgFit","BestFit"], "range": ["#14198f","#ff1f1f"]}}}}
]
}
